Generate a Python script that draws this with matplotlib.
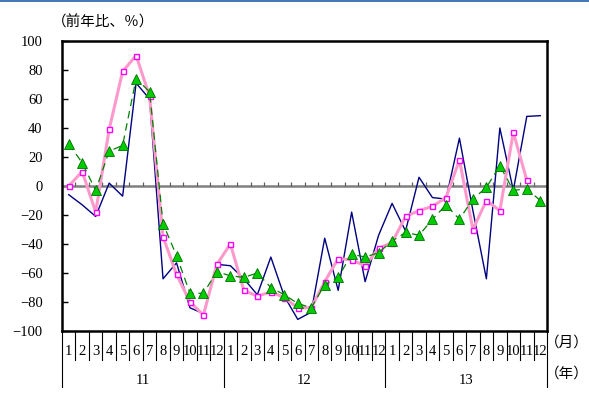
import numpy as np
import matplotlib
matplotlib.use('Agg')
import matplotlib.pyplot as plt
import matplotlib.transforms as mtransforms
from matplotlib.lines import Line2D

plt.rcParams['font.family'] = ['Liberation Serif', 'Noto Sans CJK JP']

# Monthly year-on-year change (%), Jan 2011 - Dec 2013
years = ['11', '12', '13']
months = [str(m) for m in range(1, 13)]

navy_vals = [-6, -13, -21, 2, -7, 71, 60, -64, -53, -84, -88, -54,
             -55, -64, -75, -49, -76, -92, -87, -36, -72, -18, -66, -34,
             -12, -31, 6, -8, -9, 33, -17, -64, 40, -3, 48, 48.5]
pink_vals = [0, 10, -18, 39, 79, 90, 62, -35, -61, -80, -89, -54,
             -40, -72, -76, -73, -77, -84, -84, -66, -50, -51, -55, -43,
             -39, -21, -17, -14, -8, 18, -30, -10, -17, 37, 4, np.nan]
green_vals = [29, 16, -3, 24, 28, 74, 65, -26, -48, -74, -74, -59,
              -62, -63, -60, -70, -75, -81, -84, -68, -63, -47, -49, -46,
              -38, -32, -34, -23, -13, -23, -9, -1, 14, -3, -2, -10]

n = len(navy_vals)
x = np.arange(n)

fig = plt.figure(figsize=(5.89, 3.96), dpi=100)
ax = fig.add_axes([62/589, 1-331/396, 485/589, 290/396])

ax.plot(x, navy_vals, color='#000080', lw=1.0, zorder=3)
ax.plot(x, pink_vals, color='#FF99CC', lw=2.2, marker='s', ms=3.6,
        mfc='white', mec='#FF00FF', mew=1.0, zorder=4)
ax.plot(x, green_vals, color='#008000', lw=0.9, ls=(0, (6, 4)), marker='^',
        ms=7, mfc='#00CC00', mec='#007000', mew=0.6, zorder=5)

# zero line with month ticks
ax.axhline(0, color='#808080', lw=1.8, zorder=2)
ax.vlines(np.arange(1, n) - 0.5, 0, 2.8, color='#606060', lw=0.9, zorder=2)

ax.set_xlim(-0.5, n - 0.5)
ax.set_ylim(-100, 100)
ax.set_yticks(np.arange(-100, 101, 20))
ax.set_yticklabels([str(v).replace('-', '\u2212') for v in range(-100, 101, 20)])
ax.tick_params(axis='y', direction='in', length=4, width=1, pad=14, labelsize=10.5)
ax.set_xticks([])
for s in ax.spines.values():
    s.set_linewidth(1.8)
    s.set_color('black')

# category axis below the plot
trans = mtransforms.blended_transform_factory(ax.transData, ax.transAxes)
for k in range(n + 1):
    low = -0.193 if k % 12 == 0 else -0.1
    ax.add_line(Line2D([k - 0.5, k - 0.5], [0, low], transform=trans,
                       color='black', lw=0.8, clip_on=False))
for i in range(n):
    ax.text(i, -0.072, months[i % 12], transform=trans, ha='center',
            va='center', fontsize=10.5)
for j, yr in enumerate(years):
    ax.text(12 * j + 5.5, -0.169, yr, transform=trans, ha='center',
            va='center', fontsize=10.5)

fig.text(567/589, 1-343/396, '（月）', ha='center', va='center', fontsize=10.5,
         family=['Noto Sans CJK JP'])
fig.text(567/589, 1-374/396, '（年）', ha='center', va='center', fontsize=10.5,
         family=['Noto Sans CJK JP'])
fig.text(103/589, 1-22/396, '（前年比、％）', ha='center', va='center',
         fontsize=10.5, family=['Noto Sans CJK JP'])

fig.add_artist(Line2D([0, 1], [0.998, 0.998], transform=fig.transFigure,
                      color='#1F5FA8', lw=1.2))

fig.savefig('out.png', dpi=100)
